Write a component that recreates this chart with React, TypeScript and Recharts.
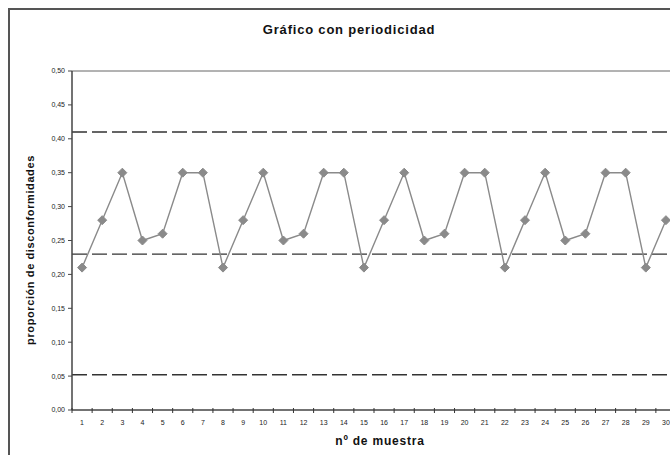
import React from "react";
import { LineChart, Line, XAxis, YAxis, ReferenceLine } from "recharts";

const muestras = Array.from({ length: 30 }, (_, i) => i + 1);
const proporciones = [
  0.21, 0.28, 0.35, 0.25, 0.26, 0.35, 0.35,
  0.21, 0.28, 0.35, 0.25, 0.26, 0.35, 0.35,
  0.21, 0.28, 0.35, 0.25, 0.26, 0.35, 0.35,
  0.21, 0.28, 0.35, 0.25, 0.26, 0.35, 0.35,
  0.21, 0.28,
];
const yTicks = [0, 0.05, 0.1, 0.15, 0.2, 0.25, 0.3, 0.35, 0.4, 0.45, 0.5];
const LSC = 0.41;
const LC = 0.23;
const LIC = 0.052;

const data = muestras.map((m, i) => ({ m, p: proporciones[i] }));

const FONT = "'Liberation Sans', Arial, sans-serif";

const Diamond = (props: any) => {
  const { cx, cy, index } = props;
  if (cx == null || cy == null) return null;
  return (
    <polygon
      key={"d" + index}
      points={`${cx},${cy - 4.5} ${cx + 4.5},${cy} ${cx},${cy + 4.5} ${cx - 4.5},${cy}`}
      fill="#8a8a8a"
      stroke="#8a8a8a"
    />
  );
};

const XTick = (props: any) => {
  const { x, y, payload, width } = props;
  const w = typeof width === "number" && width > 0 ? width : 603;
  const half = w / 30 / 2;
  const v = payload.value;
  return (
    <g>
      <line x1={x - half} x2={x - half} y1={y - 2} y2={y + 3} stroke="#333" strokeWidth={1} />
      {v === 30 && (
        <line x1={x + half} x2={x + half} y1={y - 2} y2={y + 3} stroke="#333" strokeWidth={1} />
      )}
      <text x={x} y={y + 15} textAnchor="middle" fontSize={7} fill="#222" fontFamily={FONT}>
        {v}
      </text>
    </g>
  );
};

export default function App() {
  return (
    <div
      style={{
        position: "fixed",
        left: 8,
        top: 8,
        width: 662,
        height: 447,
        overflow: "hidden",
        borderLeft: "2px solid #555",
        borderTop: "2px solid #555",
        boxSizing: "border-box",
        background: "#fff",
      }}
    >
      <div
        style={{
          position: "absolute",
          left: 0,
          width: 678,
          top: 12,
          textAlign: "center",
          fontFamily: FONT,
          fontWeight: "bold",
          fontSize: 13,
          letterSpacing: 0.8,
          color: "#111",
        }}
      >
        Gráfico con periodicidad
      </div>
      <LineChart
        width={680}
        height={440}
        data={data}
        margin={{ top: 61, right: 14, left: 0, bottom: 0 }}
      >
        <XAxis
          dataKey="m"
          type="number"
          domain={[0.5, 30.5]}
          ticks={muestras}
          interval={0}
          height={40}
          tickLine={false}
          tickSize={0}
          tickMargin={0}
          tick={<XTick />}
          axisLine={{ stroke: "#444", strokeWidth: 1.5 }}
        />
        <YAxis
          type="number"
          domain={[0, 0.5]}
          ticks={yTicks}
          interval={0}
          width={62}
          tickSize={4}
          tickMargin={3}
          tickFormatter={(v: number) => v.toFixed(2).replace(".", ",")}
          tick={{ fontSize: 7, fill: "#222", fontFamily: FONT }}
          tickLine={{ stroke: "#444" }}
          axisLine={{ stroke: "#444", strokeWidth: 1.5 }}
        />
        <ReferenceLine y={0.5} stroke="#666" strokeWidth={1} />
        <ReferenceLine y={LSC} stroke="#333" strokeWidth={1.3} strokeDasharray="15 5" />
        <ReferenceLine y={LC} stroke="#333" strokeWidth={1.3} strokeDasharray="15 5" />
        <ReferenceLine y={LIC} stroke="#333" strokeWidth={1.3} strokeDasharray="15 5" />
        <Line
          type="linear"
          dataKey="p"
          stroke="#8a8a8a"
          strokeWidth={1.4}
          dot={<Diamond />}
          activeDot={false}
          isAnimationActive={false}
        />
      </LineChart>
      <div
        style={{
          position: "absolute",
          left: 0,
          width: 740,
          top: 424,
          textAlign: "center",
          fontFamily: FONT,
          fontWeight: "bold",
          fontSize: 12,
          letterSpacing: 0.8,
          color: "#111",
        }}
      >
        nº de muestra
      </div>
      <div
        style={{
          position: "absolute",
          left: 20,
          top: 240,
          width: 0,
          height: 0,
        }}
      >
        <div
          style={{
            position: "absolute",
            left: 0,
            top: 0,
            transform: "translate(-50%, -50%) rotate(-90deg)",
            whiteSpace: "nowrap",
            fontFamily: FONT,
            fontWeight: "bold",
            fontSize: 11,
            letterSpacing: 0.6,
            color: "#111",
          }}
        >
          proporción de disconformidades
        </div>
      </div>
    </div>
  );
}
